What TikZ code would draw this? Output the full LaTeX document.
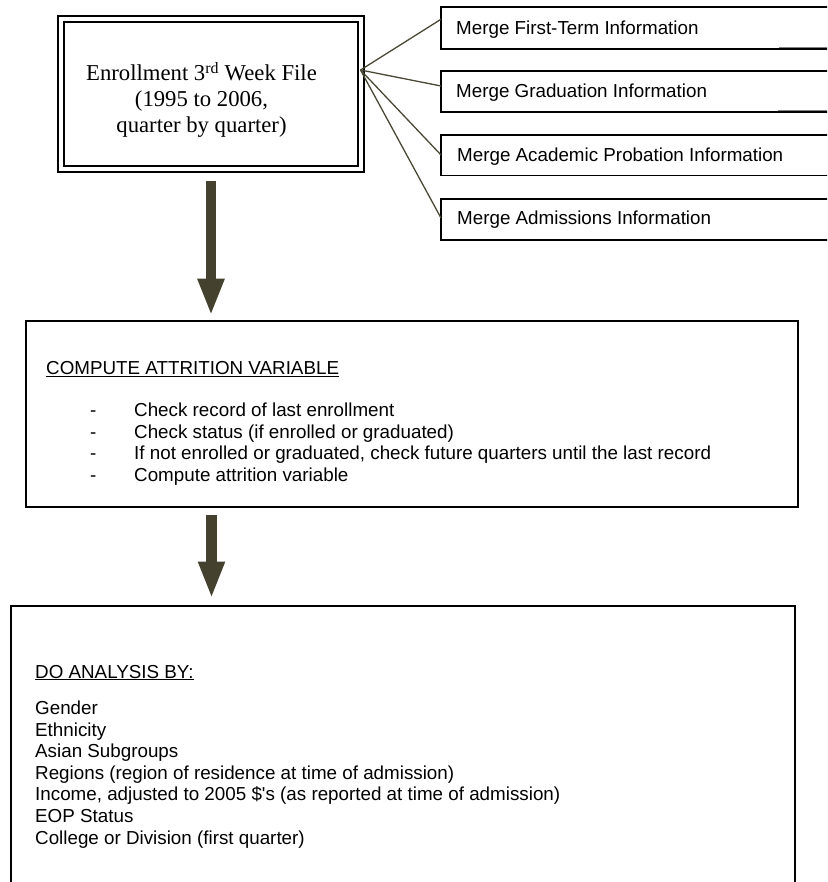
\documentclass[tikz,border=0pt]{standalone}
\usepackage{fontspec}
\setmainfont{Liberation Serif}
\newfontfamily\arialfont{Liberation Sans}
\usetikzlibrary{arrows.meta,calc}
\definecolor{arrowfill}{RGB}{68,66,46}
\definecolor{linkline}{RGB}{74,72,52}
\begin{document}
\begin{tikzpicture}[x=1pt,y=-1pt,
  frame/.style={draw=black,line width=1.6pt,inner sep=0pt,outer sep=0pt,anchor=north west},
  sans/.style={font=\arialfont\fontsize{18.8}{21.6}\selectfont,inner sep=0pt,anchor=base west},
  serif/.style={font=\fontsize{22.7}{26}\selectfont,inner sep=0pt,align=center},
  link/.style={draw=linkline,line width=1.3pt},
  flow/.style={draw=arrowfill,line width=10.6pt,-{Triangle[length=37pt,width=24.5pt,fill=arrowfill]}}]
\useasboundingbox (0,0) rectangle (827,882);
\clip (0,0) rectangle (827,882);

% source file box with its triple border
\node[frame,line width=2.6pt,minimum width=306pt,minimum height=156pt] (src) at (58,16) {};
\draw[line width=1.2pt] ($(src.north west)+(6,6)$) rectangle ($(src.south east)+(-6,-6)$);
\node[serif] (srctext) at (201.5,100)
  {Enrollment 3\textsuperscript{rd} Week File\\(1995 to 2006,\\quarter by quarter)};

% merge steps
\node[frame,minimum width=420pt,minimum height=42pt] (m1) at (441,7.3) {};
\node[frame,minimum width=420pt,minimum height=41.3pt] (m2) at (441,71) {};
\node[frame,minimum width=420pt,minimum height=40.7pt] (m3) at (441,135) {};
\node[frame,minimum width=420pt,minimum height=40.7pt] (m4) at (441,199.3) {};
\node[sans] (t1) at (456,35) {Merge First-Term Information};
\node[sans] (t2) at (456,98) {Merge Graduation Information};
\node[sans] (t3) at (457,161.5) {Merge Academic Probation Information};
\node[sans] (t4) at (457,225) {Merge Admissions Information};
\draw[line width=0.8pt,gray] ([xshift=338pt,yshift=2pt]m1.south west) -- ([yshift=2pt]m1.south east);
\draw[line width=0.8pt,gray] ([xshift=337pt,yshift=2pt]m2.south west) -- ([yshift=2pt]m2.south east);

% fan of connectors
\coordinate (hub) at (360.5,70);
\draw[link] (hub) -- ($(m1.north west)!0.285!(m1.south west)$);
\draw[link] (hub) -- ($(m2.north west)!0.363!(m2.south west)$);
\draw[link] (hub) -- ($(m3.north west)!0.49!(m3.south west)$);
\draw[link] (hub) -- ($(m4.north west)!0.46!(m4.south west)$);

% attrition step
\node[frame,minimum width=772pt,minimum height=186pt] (mid) at (26,321) {};
\node[sans] (hdr) at (46,374.5) {\underline{COMPUTE ATTRITION VARIABLE}};
\node[sans] (steps) at (90,416.5) {\def\arraystretch{1}\begin{tabular}[t]{@{}p{44pt}@{}l@{}}
  -&Check record of last enrollment\\
  -&Check status (if enrolled or graduated)\\
  -&If not enrolled or graduated, check future quarters until the last record\\
  -&Compute attrition variable
\end{tabular}};

% analysis step
\node[frame,minimum width=784pt,minimum height=320pt] (res) at (11,606) {};
\node[sans] (byhdr) at (35,678) {\underline{DO ANALYSIS BY:}};
\node[sans] (bylist) at (35,714.5) {\def\arraystretch{1}\begin{tabular}[t]{@{}l@{}}
  Gender\\
  Ethnicity\\
  Asian Subgroups\\
  Regions (region of residence at time of admission)\\
  Income, adjusted to 2005 \$'s (as reported at time of admission)\\
  EOP Status\\
  College or Division (first quarter)
\end{tabular}};

% flow arrows
\draw[flow] ([yshift=-9pt]src.south) -- ([yshift=5.3pt]src.south |- mid.north);
\draw[flow] ($(src.south |- mid.south)+(0.5,8)$) -- ($(src.south |- res.north)+(0.5,-7.5)$);
\end{tikzpicture}
\end{document}
